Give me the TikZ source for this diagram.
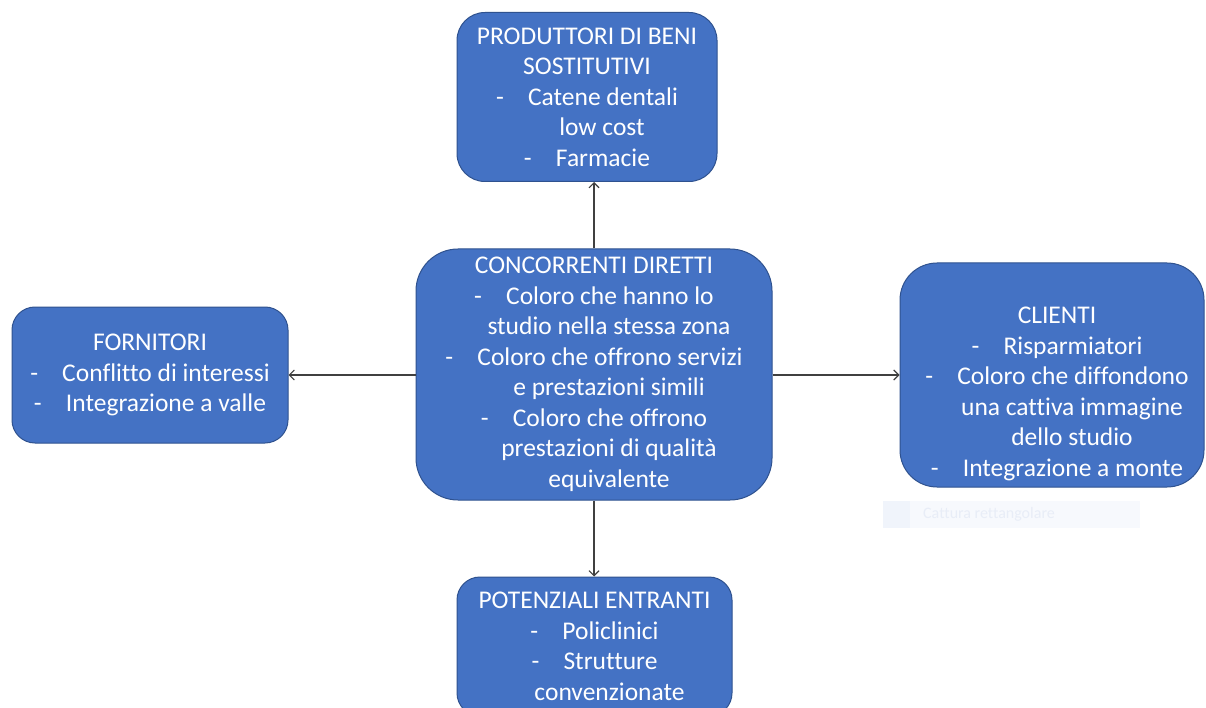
\documentclass[tikz,border=0pt]{standalone}
\usepackage{fontspec}
\setmainfont{Carlito}[Ligatures=NoCommon]
\usetikzlibrary{arrows.meta}
\definecolor{boxblue}{HTML}{4472C4}
\definecolor{boxedge}{HTML}{2F528F}
\definecolor{linkgray}{HTML}{404040}
\tikzset{
	box/.style={draw=boxedge, line width=1pt, fill=boxblue, text=white, align=center, inner sep=0pt, font=\fontsize{25.5}{30.5}\selectfont},
	boxtext/.style={text=white, align=center, inner sep=0pt, font=\fontsize{25.5}{30.5}\selectfont},
	link/.style={draw=linkgray, line width=1.1pt, -{Straight Barb[length=5pt,width=10pt]}}
}
\newcommand{\dashitem}[1]{\makebox[32pt][l]{-}#1}
\newcommand{\contline}[1]{\hspace*{30pt}#1}

\begin{document}
\begin{tikzpicture}[x=1pt,y=-1pt]
			%%%%% START %%%%%
			
			\useasboundingbox (0,0) rectangle (1206,708);
			\clip (0,0) rectangle (1206,708);
			\fill[white] (0,0) rectangle (1206,708);
			
			\node[box, minimum width=260pt, minimum height=169pt, rounded corners=28pt] (prod) at (587,97) {PRODUTTORI DI BENI\\SOSTITUTIVI\\\dashitem{Catene dentali}\\\contline{low cost}\\\dashitem{Farmacie}};
			
			\node[box, minimum width=356pt, minimum height=251pt, rounded corners=42pt] (conc) at (594,374.5) {CONCORRENTI DIRETTI\\\dashitem{Coloro che hanno lo}\\\contline{studio nella stessa zona}\\\dashitem{Coloro che offrono servizi}\\\contline{e prestazioni simili}\\\dashitem{Coloro che offrono}\\\contline{prestazioni di qualità}\\\contline{equivalente}};
			
			\node[box, minimum width=276pt, minimum height=136pt, rounded corners=23pt] (forn) at (150,375) {FORNITORI\\\dashitem{Conflitto di interessi}\\\dashitem{Integrazione a valle}};
			
			\node[box, minimum width=304pt, minimum height=224pt, rounded corners=37pt] (clienti) at (1052,375) {};
			\node[boxtext] (clientitext) at (1057,394) {CLIENTI\\\dashitem{Risparmiatori}\\\dashitem{Coloro che diffondono}\\\contline{una cattiva immagine}\\\contline{dello studio}\\\dashitem{Integrazione a monte}};
			
			\node[box, minimum width=275pt, minimum height=139pt, rounded corners=23pt] (pot) at (594.5,646.5) {POTENZIALI ENTRANTI\\\dashitem{Policlinici}\\\dashitem{Strutture}\\\contline{convenzionate}};
			
			% faint screen-capture hint
			\node[fill={rgb,255:red,247;green,249;blue,253}, minimum width=257pt, minimum height=27pt, inner sep=0pt] (cattura) at (1011.5,514.5) {};
			\node[fill={rgb,255:red,240;green,244;blue,251}, minimum width=27pt, minimum height=27pt, inner sep=0pt] (catturaicon) at (896.5,514.5) {};
			\node[text={rgb,255:red,232;green,237;blue,247}, font=\fontsize{16}{18}\selectfont, anchor=west, inner sep=0pt] (catturatext) at (923,514.5) {Cattura rettangolare};
			
			\draw[link] (conc.north) -- (conc.north |- prod.south);
			\draw[link] (conc.west |- forn.east) -- (forn.east);
			\draw[link] (conc.east |- clienti.west) -- (clienti.west);
			\draw[link] (conc.south) -- (conc.south |- pot.north);
			
			%%%%% END %%%%%
\end{tikzpicture}
\end{document}
